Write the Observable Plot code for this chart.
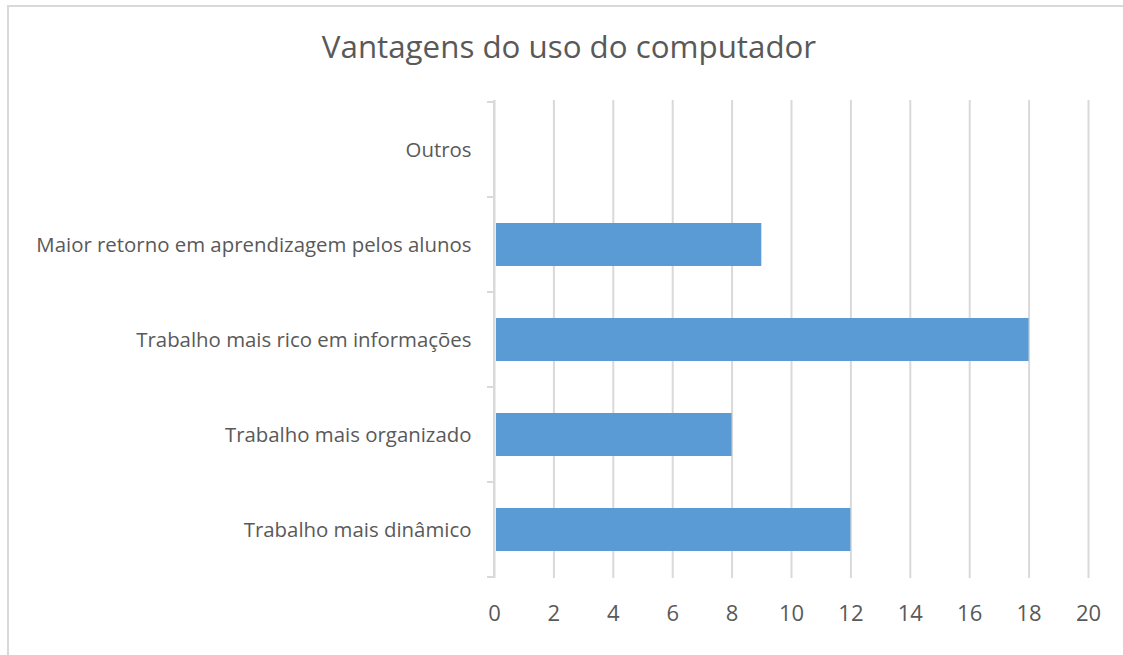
<!DOCTYPE html>
<html>
<head>
<meta charset="utf-8">
<script src="https://cdn.jsdelivr.net/npm/d3@7"></script>
<script src="https://cdn.jsdelivr.net/npm/@observablehq/plot@0.6"></script>
<style>
  html, body { margin: 0; padding: 0; background: #fff; }
  #wrap { position: relative; width: 1123px; height: 655px; overflow: hidden; font-family: "Open Sans", sans-serif; }
  #frame { position: absolute; left: 7px; top: 5px; width: 1130px; height: 660px; border: 2px solid #d9d9d9; box-sizing: border-box; }
  #title { position: absolute; left: 0; width: 1138px; top: 26px; text-align: center; font-size: 31.3px; color: #595959; line-height: 40px; }
  #chart { position: absolute; left: 0; top: 80px; }
</style>
</head>
<body>
<div id="wrap">
  <div id="frame"></div>
  <div id="title">Vantagens do uso do computador</div>
  <div id="chart"></div>
</div>
<script>
const categories = [
  "Outros",
  "Maior retorno em aprendizagem pelos alunos",
  "Trabalho mais rico em informações",
  "Trabalho mais organizado",
  "Trabalho mais dinâmico"
];
const values = [0, 9, 18, 8, 12];
const xTicks = [0, 2, 4, 6, 8, 10, 12, 14, 16, 18, 20];

const data = categories.map((c, i) => ({category: c, value: values[i]}));

const axisLine = (index, scales, values, dimensions, context) => {
  const y = scales.y;
  const x0 = scales.x(0);
  const bw = y.bandwidth != null ? (typeof y.bandwidth === "function" ? y.bandwidth() : y.bandwidth) : 0;
  const g = d3.create("svg:g").attr("stroke", "#d9d9d9").attr("stroke-width", 2).attr("fill", "none");
  const top = dimensions.marginTop, bottom = dimensions.height - dimensions.marginBottom;
  g.append("line").attr("x1", x0).attr("x2", x0).attr("y1", top).attr("y2", bottom);
  const bounds = categories.map(c => y(c)).concat([y(categories[categories.length - 1]) + bw]);
  for (const b of bounds) {
    g.append("line").attr("x1", x0 - 7).attr("x2", x0).attr("y1", b).attr("y2", b);
  }
  return g.node();
};

const chart = Plot.plot({
  width: 1123,
  height: 575,
  marginLeft: 494,
  marginRight: 35,
  marginTop: 20,
  marginBottom: 77,
  style: {fontFamily: "'Open Sans', sans-serif", color: "#595959", background: "transparent"},
  x: {domain: [0, 20], ticks: xTicks},
  y: {domain: categories, padding: 0},
  marks: [
    Plot.gridX(xTicks, {stroke: "#d9d9d9", strokeOpacity: 1, strokeWidth: 2}),
    Plot.barX(data, {x: "value", y: "category", fill: "#5B9BD5", insetTop: 26, insetBottom: 26, insetLeft: 2}),
    axisLine,
    Plot.axisX({ticks: xTicks, tickSize: 0, tickPadding: 27, fontSize: 22, label: null, fill: "#595959"}),
    Plot.axisY({tickSize: 0, tickPadding: 23, fontSize: 20.4, label: null, fill: "#595959"})
  ]
});
document.getElementById("chart").appendChild(chart);
</script>
</body>
</html>
